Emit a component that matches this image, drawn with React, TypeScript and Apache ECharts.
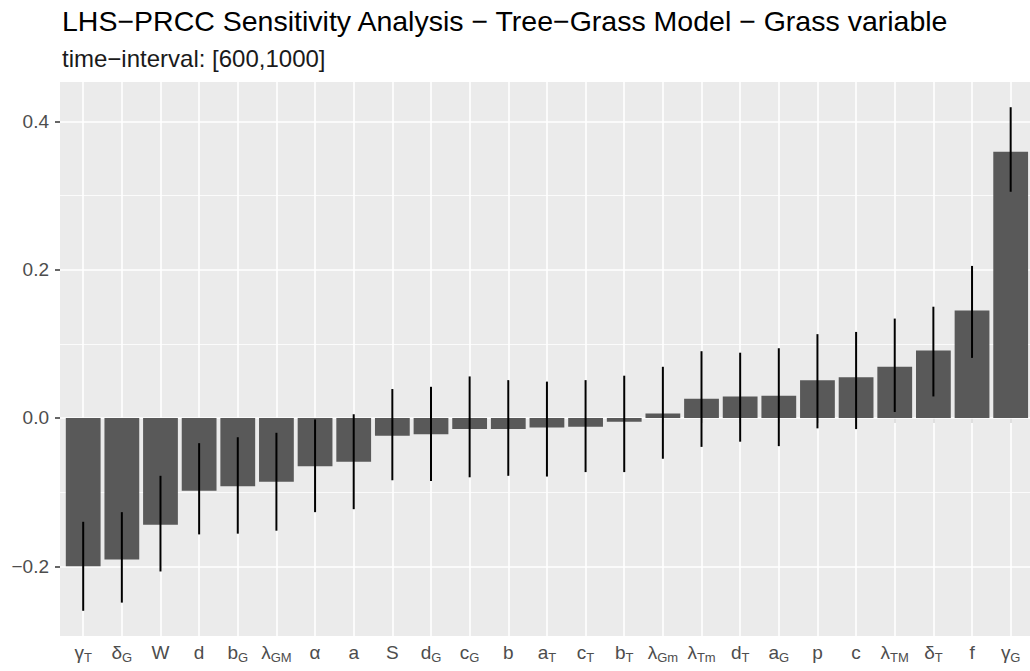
import React, { useEffect, useRef } from "react";
import * as echarts from "echarts";

// Parameters, ordered by PRCC value; "_" separates the symbol from its subscript
const params = [
  "γ_T", "δ_G", "W", "d", "b_G", "λ_GM", "α", "a", "S", "d_G", "c_G", "b", "a_T",
  "c_T", "b_T", "λ_Gm", "λ_Tm", "d_T", "a_G", "p", "c", "λ_TM", "δ_T", "f", "γ_G",
];
const prcc = [
  -0.2, -0.191, -0.144, -0.098, -0.092, -0.086, -0.065, -0.059, -0.024, -0.022,
  -0.015, -0.015, -0.013, -0.012, -0.005, 0.006, 0.026, 0.029, 0.03, 0.051, 0.055,
  0.069, 0.091, 0.145, 0.359,
];
const ciLower = [
  -0.26, -0.249, -0.207, -0.157, -0.156, -0.152, -0.127, -0.123, -0.084, -0.085,
  -0.08, -0.078, -0.079, -0.073, -0.073, -0.055, -0.039, -0.032, -0.038, -0.014,
  -0.015, 0.008, 0.029, 0.081, 0.305,
];
const ciUpper = [
  -0.14, -0.127, -0.078, -0.034, -0.026, -0.02, -0.002, 0.005, 0.039, 0.042, 0.056,
  0.051, 0.049, 0.051, 0.057, 0.069, 0.09, 0.088, 0.094, 0.113, 0.116, 0.134, 0.15,
  0.205, 0.419,
];
const yMajor = [-0.2, 0, 0.2, 0.4];
const yMinor = [-0.1, 0.1, 0.3];
const yMin = -0.294;
const yMax = 0.453;

const FONT = "'Liberation Sans', Arial, Helvetica, sans-serif";

// Panel box; the discrete axis is padded by 0.6 of a band on each side
const PANEL_LEFT = 60;
const PANEL_RIGHT = -6;
const PANEL_TOP = 82;
const PANEL_BOTTOM = 35;
const CHART_W = 1030;

function paramLabel(key: string): string {
  const [base, sub] = key.split("_");
  return sub ? `{m|${base}}{s|${sub}}` : `{m|${base}}`;
}

function tickLabel(v: number): string {
  const s = Math.abs(v).toFixed(1);
  return v < -1e-9 ? "\u2212" + s : s;
}

export default function App() {
  const ref = useRef<HTMLDivElement>(null);

  useEffect(() => {
    if (!ref.current) return;
    const chart = echarts.init(ref.current, null, { renderer: "svg" });

    const panelWidth = CHART_W - PANEL_LEFT - PANEL_RIGHT;
    const band = panelWidth / (params.length + 0.2);
    const pad = band * 0.1;

    chart.setOption({
      animation: false,
      backgroundColor: "#ffffff",
      textStyle: { fontFamily: FONT },
      title: {
        text: "LHS\u2212PRCC Sensitivity Analysis \u2212 Tree\u2212Grass Model \u2212 Grass variable",
        subtext: "time\u2212interval: [600,1000]",
        left: 62,
        top: 6,
        padding: 0,
        itemGap: 11,
        textStyle: { fontFamily: FONT, fontSize: 28.5, fontWeight: "normal", color: "#000000" },
        subtextStyle: { fontFamily: FONT, fontSize: 24, color: "#1a1a1a" },
      },
      grid: [
        {
          // full panel: background, horizontal grid and y scale
          left: PANEL_LEFT,
          right: PANEL_RIGHT,
          top: PANEL_TOP,
          bottom: PANEL_BOTTOM,
          show: true,
          backgroundColor: "#EBEBEB",
          borderWidth: 0,
        },
        {
          // category bands
          left: PANEL_LEFT + pad,
          right: PANEL_RIGHT + pad,
          top: PANEL_TOP,
          bottom: PANEL_BOTTOM,
          show: false,
        },
      ],
      xAxis: [
        {
          gridIndex: 0,
          type: "value",
          min: 0,
          max: 1,
          show: false,
        },
        {
          gridIndex: 1,
          type: "category",
          data: params,
          axisLine: { show: false },
          axisTick: {
            show: true,
            alignWithLabel: true,
            length: 5,
            lineStyle: { color: "#333333", width: 1.5 },
          },
          splitLine: { show: false },
          axisLabel: {
            margin: 6,
            interval: 0,
            formatter: (v: string) => paramLabel(v),
            rich: {
              m: { fontFamily: FONT, fontSize: 19, color: "#4D4D4D", lineHeight: 20 },
              s: {
                fontFamily: FONT,
                fontSize: 13,
                color: "#4D4D4D",
                height: 10,
                lineHeight: 20,
                verticalAlign: "bottom",
              },
            },
          },
        },
      ],
      yAxis: [
        {
          gridIndex: 0,
          type: "value",
          min: yMin,
          max: yMax,
          axisLine: { show: false },
          splitLine: { show: false },
          axisTick: {
            show: true,
            length: 5,
            customValues: yMajor,
            lineStyle: { color: "#333333", width: 1.5 },
          },
          axisLabel: {
            customValues: yMajor,
            margin: 11,
            fontFamily: FONT,
            fontSize: 19,
            color: "#4D4D4D",
            formatter: (v: number) => tickLabel(v),
          },
        },
        {
          gridIndex: 1,
          type: "value",
          min: yMin,
          max: yMax,
          show: false,
          splitLine: { show: false },
        },
      ],
      series: [
        {
          // horizontal panel grid lines across the whole panel
          type: "line",
          xAxisIndex: 0,
          yAxisIndex: 0,
          data: [],
          silent: true,
          z: 1,
          markLine: {
            silent: true,
            z: 1,
            symbol: "none",
            label: { show: false },
            lineStyle: { color: "#ffffff", type: "solid" },
            emphasis: { disabled: true },
            data: [
              ...yMajor.map((v) => ({ yAxis: v, lineStyle: { width: 1.6 } })),
              ...yMinor.map((v) => ({ yAxis: v, lineStyle: { width: 0.8 } })),
            ],
          },
        },
        {
          // vertical grid lines at each category
          type: "line",
          xAxisIndex: 1,
          yAxisIndex: 1,
          data: [],
          silent: true,
          z: 1,
          markLine: {
            silent: true,
            z: 1,
            symbol: "none",
            label: { show: false },
            lineStyle: { color: "#ffffff", type: "solid", width: 1.6 },
            emphasis: { disabled: true },
            data: params.map((p) => ({ xAxis: p })),
          },
        },
        {
          type: "bar",
          xAxisIndex: 1,
          yAxisIndex: 1,
          data: prcc,
          barCategoryGap: "10%",
          itemStyle: { color: "#595959" },
          z: 2,
        },
        {
          type: "custom",
          xAxisIndex: 1,
          yAxisIndex: 1,
          z: 3,
          encode: { x: 0, y: [1, 2] },
          data: params.map((_, i) => [i, ciLower[i], ciUpper[i]]),
          renderItem: (_p: any, api: any) => {
            const x = api.value(0);
            const a = api.coord([x, api.value(1)]);
            const b = api.coord([x, api.value(2)]);
            return {
              type: "line",
              shape: { x1: a[0], y1: a[1], x2: b[0], y2: b[1] },
              style: { stroke: "#000000", lineWidth: 2 },
            };
          },
        },
      ],
    });

    return () => chart.dispose();
  }, []);

  return (
    <div style={{ position: "absolute", left: 0, top: 0, width: CHART_W, height: 671, overflow: "hidden" }}>
      <div ref={ref} style={{ width: CHART_W, height: 671 }} />
    </div>
  );
}
